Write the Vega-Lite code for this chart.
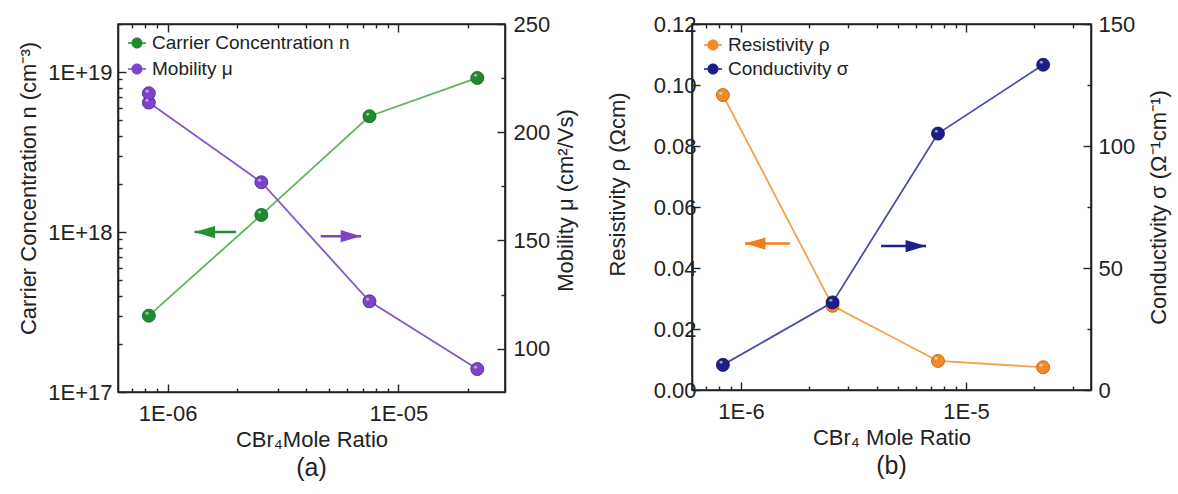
{
  "$schema": "https://vega.github.io/schema/vega-lite/v6.json",
  "padding": {"left": 16, "top": 12, "right": 5, "bottom": 5},
  "background": "white",
  "spacing": 27,
  "datasets": {
    "carrier": [
      {"ratio": 8.3e-7, "n": 3.0e17, "series": "Carrier Concentration n"},
      {"ratio": 2.55e-6, "n": 1.28e18, "series": "Carrier Concentration n"},
      {"ratio": 7.5e-6, "n": 5.3e18, "series": "Carrier Concentration n"},
      {"ratio": 2.2e-5, "n": 9.2e18, "series": "Carrier Concentration n"}
    ],
    "mobility": [
      {"ratio": 8.3e-7, "mu": 213.7, "series": "Mobility μ", "repeat": false},
      {"ratio": 2.55e-6, "mu": 176.9, "series": "Mobility μ", "repeat": false},
      {"ratio": 7.5e-6, "mu": 121.9, "series": "Mobility μ", "repeat": false},
      {"ratio": 2.2e-5, "mu": 90.6, "series": "Mobility μ", "repeat": false},
      {"ratio": 8.3e-7, "mu": 218.0, "series": "Mobility μ", "repeat": true}
    ],
    "resistivity": [
      {"ratio": 8.3e-7, "rho": 0.0967, "series": "Resistivity ρ"},
      {"ratio": 2.55e-6, "rho": 0.0276, "series": "Resistivity ρ"},
      {"ratio": 7.5e-6, "rho": 0.00953, "series": "Resistivity ρ"},
      {"ratio": 2.2e-5, "rho": 0.00745, "series": "Resistivity ρ"}
    ],
    "conductivity": [
      {"ratio": 8.3e-7, "sigma": 10.3, "series": "Conductivity σ"},
      {"ratio": 2.55e-6, "sigma": 35.9, "series": "Conductivity σ"},
      {"ratio": 7.5e-6, "sigma": 105.1, "series": "Conductivity σ"},
      {"ratio": 2.2e-5, "sigma": 133.3, "series": "Conductivity σ"}
    ],
    "arrow_n": [{"ratio": 1.31e-6, "tail": 1.98e-6, "n": 1.0e18}],
    "arrow_mu": [{"ratio": 6.9e-6, "tail": 4.61e-6, "mu": 152}],
    "arrow_rho": [{"ratio": 1.04e-6, "tail": 1.65e-6, "rho": 0.048}],
    "arrow_sigma": [{"ratio": 6.64e-6, "tail": 4.19e-6, "sigma": 59}]
  },
  "hconcat": [
    {
      "width": 387,
      "height": 368,
      "title": {"text": "(a)", "orient": "bottom", "frame": "group", "fontSize": 25, "fontWeight": "normal", "font": "Liberation Sans", "color": "#222", "offset": 6},
      "layer": [
        {
          "layer": [
            {
              "data": {"name": "carrier"},
              "mark": {"type": "line", "color": "#5fb55f", "strokeWidth": 1.8},
              "encoding": {
                "x": {"field": "ratio", "type": "quantitative",
                  "scale": {"type": "log", "domain": [6.1e-7, 2.9e-5], "nice": false},
                  "axis": {"orient": "bottom", "title": "CBr₄Mole Ratio",
                    "values": [7e-7, 8e-7, 9e-7, 1e-6, 2e-6, 3e-6, 4e-6, 5e-6, 6e-6, 7e-6, 8e-6, 9e-6, 1e-5, 2e-5],
                    "labelExpr": "abs(log(datum.value)/LN10 - round(log(datum.value)/LN10)) < 0.001 ? '1E-0' + (-round(log(datum.value)/LN10)) : ''",
                    "tickDash": {"condition": {"test": "abs(log(datum.value)/LN10 - round(log(datum.value)/LN10)) < 0.001", "value": [20, 0]}, "value": [4, 20]},
                    "labelPadding": 19, "titlePadding": 5}},
                "y": {"field": "n", "type": "quantitative",
                  "scale": {"type": "log", "domain": [1e17, 2e19], "nice": false},
                  "axis": {"orient": "left", "title": "Carrier Concentration n (cm⁻³)", "titleY": 164,
                    "values": [1e17, 2e17, 3e17, 4e17, 5e17, 6e17, 7e17, 8e17, 9e17, 1e18, 2e18, 3e18, 4e18, 5e18, 6e18, 7e18, 8e18, 9e18, 1e19, 2e19],
                    "labelExpr": "abs(log(datum.value)/LN10 - round(log(datum.value)/LN10)) < 0.001 ? '1E+' + round(log(datum.value)/LN10) : ''",
                    "tickDash": {"condition": {"test": "abs(log(datum.value)/LN10 - round(log(datum.value)/LN10)) < 0.001", "value": [20, 0]}, "value": [4, 20]},
                    "labelPadding": 14, "titlePadding": 7}}
              }
            },
            {
              "data": {"name": "carrier"},
              "mark": {"type": "point", "filled": true, "size": 170, "opacity": 1, "stroke": "#0f5e1a", "strokeWidth": 0.8},
              "encoding": {
                "x": {"field": "ratio", "type": "quantitative"},
                "y": {"field": "n", "type": "quantitative"},
                "color": {"field": "series", "type": "nominal",
                  "scale": {"domain": ["Carrier Concentration n", "Mobility μ"], "range": ["#1f8b2c", "#7b45c6"]},
                  "legend": {"title": null, "orient": "top-left", "offset": 6, "padding": 3, "labelFontSize": 19, "labelFont": "Liberation Sans", "labelColor": "#222", "labelLimit": 400,
                    "symbolType": "M-0.9,-0.08L0.9,-0.08L0.9,0.08L-0.9,0.08Z M0.55,0A0.55,0.55 0 1,1 -0.55,0A0.55,0.55 0 1,1 0.55,0Z",
                    "symbolSize": 400, "rowPadding": 6, "labelOffset": 5, "symbolStrokeWidth": 0}}
              }
            },
            {
              "data": {"name": "carrier"},
              "mark": {"type": "text", "text": "●", "fontSize": 7, "color": "white", "opacity": 0.55, "dx": -2, "dy": -2.5},
              "encoding": {
                "x": {"field": "ratio", "type": "quantitative"},
                "y": {"field": "n", "type": "quantitative"}
              }
            },
            {
              "data": {"name": "arrow_n"},
              "mark": {"type": "rule", "color": "#23912f", "strokeWidth": 2.5},
              "encoding": {
                "x": {"field": "ratio", "type": "quantitative"},
                "x2": {"field": "tail"},
                "y": {"field": "n", "type": "quantitative"}
              }
            },
            {
              "data": {"name": "arrow_n"},
              "mark": {"type": "point", "shape": "M0,0L2,-0.6L2,0.6Z", "filled": true, "size": 420, "opacity": 1, "color": "#23912f"},
              "encoding": {
                "x": {"field": "ratio", "type": "quantitative"},
                "y": {"field": "n", "type": "quantitative"}
              }
            }
          ]
        },
        {
          "layer": [
            {
              "data": {"name": "mobility"},
              "transform": [{"filter": "!datum.repeat"}],
              "mark": {"type": "line", "color": "#8657c8", "strokeWidth": 1.8},
              "encoding": {
                "x": {"field": "ratio", "type": "quantitative",
                  "scale": {"type": "log", "domain": [6.1e-7, 2.9e-5], "nice": false},
                  "axis": {"orient": "top", "title": null, "labels": false,
                    "values": [7e-7, 8e-7, 9e-7, 1e-6, 2e-6, 3e-6, 4e-6, 5e-6, 6e-6, 7e-6, 8e-6, 9e-6, 1e-5, 2e-5],
                    "tickDash": {"condition": {"test": "abs(log(datum.value)/LN10 - round(log(datum.value)/LN10)) < 0.001", "value": [20, 0]}, "value": [4, 20]}}},
                "y": {"field": "mu", "type": "quantitative",
                  "scale": {"domain": [80, 250], "nice": false, "zero": false},
                  "axis": {"orient": "right", "title": "Mobility μ (cm²/Vs)", "titleAngle": 270, "titleBaseline": "top", "titleY": 176,
                    "values": [100, 125, 150, 175, 200, 225, 250],
                    "labelExpr": "datum.value % 50 == 0 ? '' + datum.value : ''",
                    "tickDash": {"condition": {"test": "datum.value % 50 == 0", "value": [20, 0]}, "value": [4, 20]},
                    "labelPadding": 16, "titlePadding": 6}}
              }
            },
            {
              "data": {"name": "mobility"},
              "mark": {"type": "point", "filled": true, "size": 170, "opacity": 1, "stroke": "#4b1f8a", "strokeWidth": 0.8},
              "encoding": {
                "x": {"field": "ratio", "type": "quantitative"},
                "y": {"field": "mu", "type": "quantitative"},
                "color": {"field": "series", "type": "nominal"}
              }
            },
            {
              "data": {"name": "mobility"},
              "mark": {"type": "text", "text": "●", "fontSize": 7, "color": "white", "opacity": 0.55, "dx": -2, "dy": -2.5},
              "encoding": {
                "x": {"field": "ratio", "type": "quantitative"},
                "y": {"field": "mu", "type": "quantitative"}
              }
            },
            {
              "data": {"name": "arrow_mu"},
              "mark": {"type": "rule", "color": "#7b45c6", "strokeWidth": 2.5},
              "encoding": {
                "x": {"field": "ratio", "type": "quantitative"},
                "x2": {"field": "tail"},
                "y": {"field": "mu", "type": "quantitative"}
              }
            },
            {
              "data": {"name": "arrow_mu"},
              "mark": {"type": "point", "shape": "M0,0L-2,-0.6L-2,0.6Z", "filled": true, "size": 420, "opacity": 1, "color": "#7b45c6"},
              "encoding": {
                "x": {"field": "ratio", "type": "quantitative"},
                "y": {"field": "mu", "type": "quantitative"}
              }
            }
          ]
        }
      ],
      "resolve": {"scale": {"y": "independent"}, "axis": {"x": "independent"}}
    },
    {
      "width": 399,
      "height": 366,
      "title": {"text": "(b)", "orient": "bottom", "frame": "group", "fontSize": 25, "fontWeight": "normal", "font": "Liberation Sans", "color": "#222", "offset": 6},
      "layer": [
        {
          "layer": [
            {
              "data": {"name": "resistivity"},
              "mark": {"type": "line", "color": "#f5a04a", "strokeWidth": 1.8},
              "encoding": {
                "x": {"field": "ratio", "type": "quantitative",
                  "scale": {"type": "log", "domain": [6.05e-7, 3.59e-5], "nice": false},
                  "axis": {"orient": "bottom", "title": "CBr₄ Mole Ratio",
                    "values": [7e-7, 8e-7, 9e-7, 1e-6, 2e-6, 3e-6, 4e-6, 5e-6, 6e-6, 7e-6, 8e-6, 9e-6, 1e-5, 2e-5, 3e-5],
                    "labelExpr": "abs(log(datum.value)/LN10 - round(log(datum.value)/LN10)) < 0.001 ? '1E' + round(log(datum.value)/LN10) : ''",
                    "tickDash": {"condition": {"test": "abs(log(datum.value)/LN10 - round(log(datum.value)/LN10)) < 0.001", "value": [20, 0]}, "value": [4, 20]},
                    "labelPadding": 19, "titlePadding": 5}},
                "y": {"field": "rho", "type": "quantitative",
                  "scale": {"domain": [0, 0.12], "nice": false},
                  "axis": {"orient": "left", "title": "Resistivity ρ (Ωcm)", "titleY": 160,
                    "values": [0, 0.01, 0.02, 0.03, 0.04, 0.05, 0.06, 0.07, 0.08, 0.09, 0.1, 0.11, 0.12],
                    "labelExpr": "round(datum.value * 100) % 2 == 0 ? format(datum.value, '.2f') : ''",
                    "tickDash": {"condition": {"test": "round(datum.value * 100) % 2 == 0", "value": [20, 0]}, "value": [4, 20]},
                    "labelPadding": 4, "titlePadding": 24}}
              }
            },
            {
              "data": {"name": "resistivity"},
              "mark": {"type": "point", "filled": true, "size": 170, "opacity": 1, "stroke": "#b85a08", "strokeWidth": 0.8},
              "encoding": {
                "x": {"field": "ratio", "type": "quantitative"},
                "y": {"field": "rho", "type": "quantitative"},
                "color": {"field": "series", "type": "nominal",
                  "scale": {"domain": ["Resistivity ρ", "Conductivity σ"], "range": ["#f28a26", "#1d1d8a"]},
                  "legend": {"title": null, "orient": "top-left", "offset": 9, "padding": 2, "labelFontSize": 19, "labelFont": "Liberation Sans", "labelColor": "#222", "labelLimit": 400,
                    "symbolType": "M-0.9,-0.08L0.9,-0.08L0.9,0.08L-0.9,0.08Z M0.55,0A0.55,0.55 0 1,1 -0.55,0A0.55,0.55 0 1,1 0.55,0Z",
                    "symbolSize": 400, "rowPadding": 4, "labelOffset": 5, "symbolStrokeWidth": 0}}
              }
            },
            {
              "data": {"name": "resistivity"},
              "transform": [{"filter": "datum.ratio != 2.55e-6"}],
              "mark": {"type": "text", "text": "●", "fontSize": 7, "color": "white", "opacity": 0.55, "dx": -2, "dy": -2.5},
              "encoding": {
                "x": {"field": "ratio", "type": "quantitative"},
                "y": {"field": "rho", "type": "quantitative"}
              }
            },
            {
              "data": {"name": "arrow_rho"},
              "mark": {"type": "rule", "color": "#f07e1c", "strokeWidth": 2.5},
              "encoding": {
                "x": {"field": "ratio", "type": "quantitative"},
                "x2": {"field": "tail"},
                "y": {"field": "rho", "type": "quantitative"}
              }
            },
            {
              "data": {"name": "arrow_rho"},
              "mark": {"type": "point", "shape": "M0,0L2,-0.6L2,0.6Z", "filled": true, "size": 420, "opacity": 1, "color": "#f07e1c"},
              "encoding": {
                "x": {"field": "ratio", "type": "quantitative"},
                "y": {"field": "rho", "type": "quantitative"}
              }
            }
          ]
        },
        {
          "layer": [
            {
              "data": {"name": "conductivity"},
              "mark": {"type": "line", "color": "#4b4fa6", "strokeWidth": 1.8},
              "encoding": {
                "x": {"field": "ratio", "type": "quantitative",
                  "scale": {"type": "log", "domain": [6.05e-7, 3.59e-5], "nice": false},
                  "axis": {"orient": "top", "title": null, "labels": false,
                    "values": [7e-7, 8e-7, 9e-7, 1e-6, 2e-6, 3e-6, 4e-6, 5e-6, 6e-6, 7e-6, 8e-6, 9e-6, 1e-5, 2e-5, 3e-5],
                    "tickDash": {"condition": {"test": "abs(log(datum.value)/LN10 - round(log(datum.value)/LN10)) < 0.001", "value": [20, 0]}, "value": [4, 20]}}},
                "y": {"field": "sigma", "type": "quantitative",
                  "scale": {"domain": [0, 150], "nice": false},
                  "axis": {"orient": "right", "title": "Conductivity σ (Ω⁻¹cm⁻¹)", "titleAngle": 270, "titleBaseline": "top",
                    "values": [0, 12.5, 25, 37.5, 50, 62.5, 75, 87.5, 100, 112.5, 125, 137.5, 150],
                    "labelExpr": "datum.value % 50 == 0 ? '' + datum.value : ''",
                    "tickDash": {"condition": {"test": "datum.value % 50 == 0", "value": [20, 0]}, "value": [4, 20]},
                    "labelPadding": 15, "titlePadding": 14}}
              }
            },
            {
              "data": {"name": "conductivity"},
              "mark": {"type": "point", "filled": true, "size": 170, "opacity": 1, "stroke": "#0c0c55", "strokeWidth": 0.8},
              "encoding": {
                "x": {"field": "ratio", "type": "quantitative"},
                "y": {"field": "sigma", "type": "quantitative"},
                "color": {"field": "series", "type": "nominal"}
              }
            },
            {
              "data": {"name": "conductivity"},
              "mark": {"type": "text", "text": "●", "fontSize": 7, "color": "white", "opacity": 0.55, "dx": -2, "dy": -2.5},
              "encoding": {
                "x": {"field": "ratio", "type": "quantitative"},
                "y": {"field": "sigma", "type": "quantitative"}
              }
            },
            {
              "data": {"name": "arrow_sigma"},
              "mark": {"type": "rule", "color": "#1e1e8c", "strokeWidth": 2.5},
              "encoding": {
                "x": {"field": "ratio", "type": "quantitative"},
                "x2": {"field": "tail"},
                "y": {"field": "sigma", "type": "quantitative"}
              }
            },
            {
              "data": {"name": "arrow_sigma"},
              "mark": {"type": "point", "shape": "M0,0L-2,-0.6L-2,0.6Z", "filled": true, "size": 420, "opacity": 1, "color": "#1e1e8c"},
              "encoding": {
                "x": {"field": "ratio", "type": "quantitative"},
                "y": {"field": "sigma", "type": "quantitative"}
              }
            }
          ]
        }
      ],
      "resolve": {"scale": {"y": "independent"}, "axis": {"x": "independent"}}
    }
  ],
  "resolve": {"scale": {"color": "independent"}, "legend": {"color": "independent"}},
  "config": {
    "font": "Liberation Sans",
    "view": {"stroke": "#222", "strokeWidth": 1.6},
    "axis": {
      "labelFont": "Liberation Sans", "labelFontSize": 22, "labelColor": "#222",
      "titleFont": "Liberation Sans", "titleFontSize": 22, "titleFontWeight": "normal", "titleColor": "#222",
      "domainColor": "#222", "domainWidth": 1.6, "tickColor": "#222", "tickWidth": 1.4, "grid": false,
      "tickSize": -8, "labelOverlap": false, "labelFlush": false, "labelBound": false
    }
  }
}
